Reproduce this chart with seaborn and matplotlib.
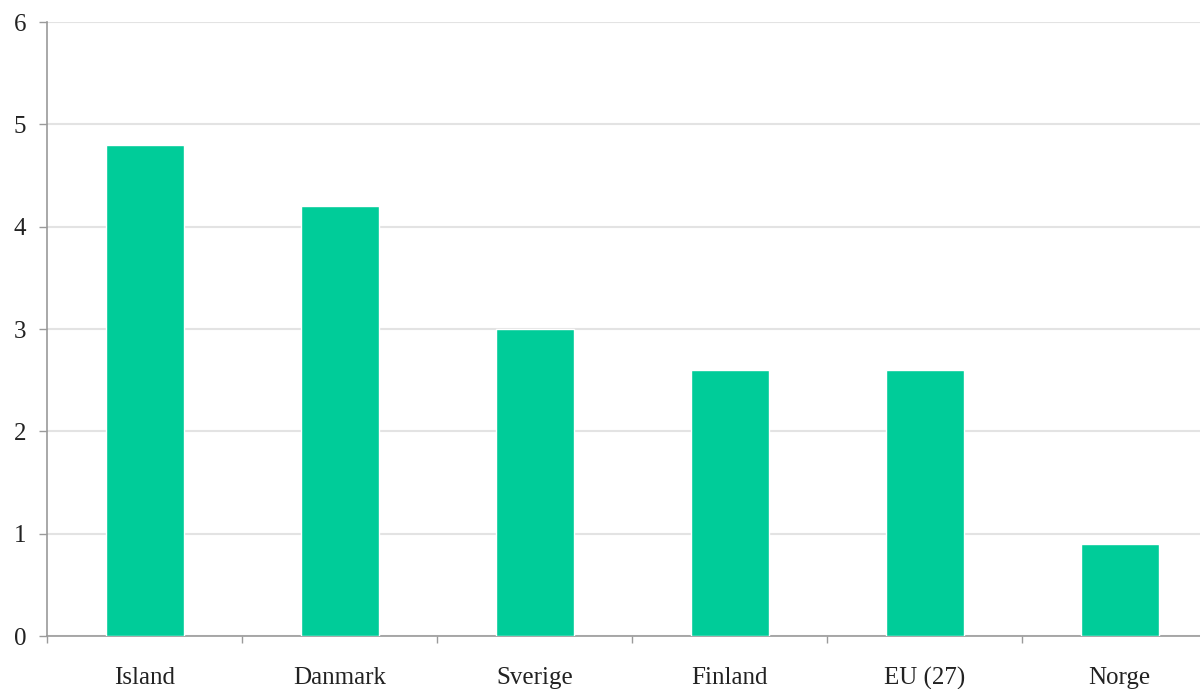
import numpy as np
import pandas as pd
import matplotlib
matplotlib.use("Agg")
import matplotlib.pyplot as plt
import seaborn as sns

# chart data
countries = ["Island", "Danmark", "Sverige", "Finland", "EU (27)", "Norge"]
values = [4.8, 4.2, 3.0, 2.6, 2.6, 0.9]
y_ticks = [0, 1, 2, 3, 4, 5, 6]

df = pd.DataFrame({"Land": countries, "Verdi": values})

sns.set_theme(style="white")
plt.rcParams["font.family"] = ["Liberation Serif", "DejaVu Serif"]

fig = plt.figure(figsize=(12, 6.89), dpi=100)
ax = fig.add_axes([0.0392, 0.0769, 0.975, 0.891])

sns.barplot(data=df, x="Land", y="Verdi", color="#00CC99", width=0.4,
            saturation=1, ax=ax, zorder=3)

ax.set_ylim(0, 6)
ax.set_xlim(-0.5, len(countries) - 0.5)
ax.set_yticks(y_ticks)
ax.yaxis.grid(True, color="#E3E3E3", linewidth=1.5, zorder=0)
ax.set_axisbelow(True)

# tick marks sit between categories
ax.set_xticks(np.arange(-0.5, len(countries), 1.0), minor=True)
ax.tick_params(axis="x", which="major", length=0, pad=22, labelsize=18,
               labelcolor="#222222")
ax.tick_params(axis="x", which="minor", length=5, width=1, color="#9A9A9A",
               direction="out", bottom=True)
ax.tick_params(axis="y", length=6, width=1, color="#9A9A9A", direction="out",
               left=True, pad=9, labelsize=18, labelcolor="#222222")

for side in ["top", "right"]:
    ax.spines[side].set_visible(False)
for side in ["left", "bottom"]:
    ax.spines[side].set_color("#9A9A9A")
    ax.spines[side].set_linewidth(1.2)

ax.set_xlabel("")
ax.set_ylabel("")

fig.savefig("out.png", dpi=100)
